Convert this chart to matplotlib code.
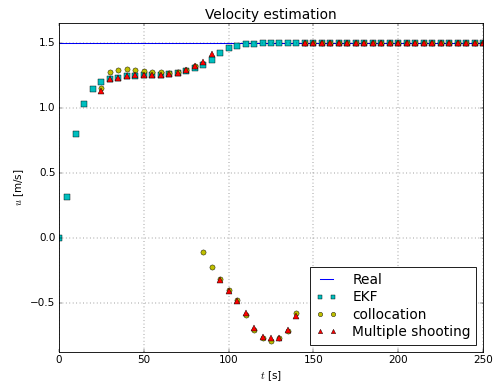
import numpy as np
import matplotlib
matplotlib.use("Agg")
import matplotlib.pyplot as plt

plt.style.use("classic")

# Time grids [s]
t_real = [0, 250]
t_ekf = list(range(0, 255, 5))
t_est = list(range(25, 255, 5))

# Reference velocity
u_real = [1.5, 1.5]

# EKF estimate, t = 0..250
u_ekf = [0.00, 0.31, 0.80, 1.03, 1.145, 1.20, 1.225, 1.232, 1.245, 1.248,
         1.25, 1.25, 1.255, 1.26, 1.27, 1.285, 1.305, 1.33, 1.37, 1.42,
         1.462, 1.48, 1.49, 1.495, 1.497, 1.498, 1.499, 1.5, 1.5, 1.5] + [1.5] * 21

# Collocation estimate, t = 25..250
u_coll = [1.157, 1.273, 1.292, 1.302, 1.294, 1.286, 1.278, 1.273, 1.27, 1.28,
          1.294, 1.322, -0.113, -0.228, -0.319, -0.404, -0.481, -0.594, -0.707,
          -0.776, -0.795, -0.776, -0.715, -0.579] + [1.5] * 22

# Multiple-shooting estimate, t = 25..250
u_ms = [1.132, 1.222, 1.23, 1.245, 1.253, 1.253, 1.253, 1.256, 1.26, 1.268,
        1.288, 1.32, 1.353, 1.415, -0.329, -0.411, -0.488, -0.583, -0.694,
        -0.764, -0.776, -0.769, -0.707, -0.604] + [1.5] * 22

fig = plt.figure(figsize=(8, 383 / 61.875), dpi=61.875)
ax = fig.add_axes([0.119, 0.082, 0.857, 0.858])

ax.plot(t_real, u_real, "b-", linewidth=1.2, label="Real")
ax.plot(t_ekf, u_ekf, "cs", markersize=6, label="EKF")
ax.plot(t_est, u_coll, "yo", markersize=6, label="collocation")
ax.plot(t_est, u_ms, "r^", markersize=6, label="Multiple shooting")

ax.set_xlim(0, 250)
ax.set_ylim(-0.877, 1.654)
ax.set_xticks([0, 50, 100, 150, 200, 250])
ax.set_yticks([-0.5, 0.0, 0.5, 1.0, 1.5])
ax.grid(True)
ax.set_title("Velocity estimation", fontsize=16)
ax.set_xlabel("$t$ [s]")
ax.set_ylabel("$u$ [m/s]")
ax.legend(loc="lower right", numpoints=2, fontsize=16, handlelength=1.55,
          handletextpad=1.1, labelspacing=0.25, markerscale=0.85)

fig.savefig("out.png", dpi=61.875)
